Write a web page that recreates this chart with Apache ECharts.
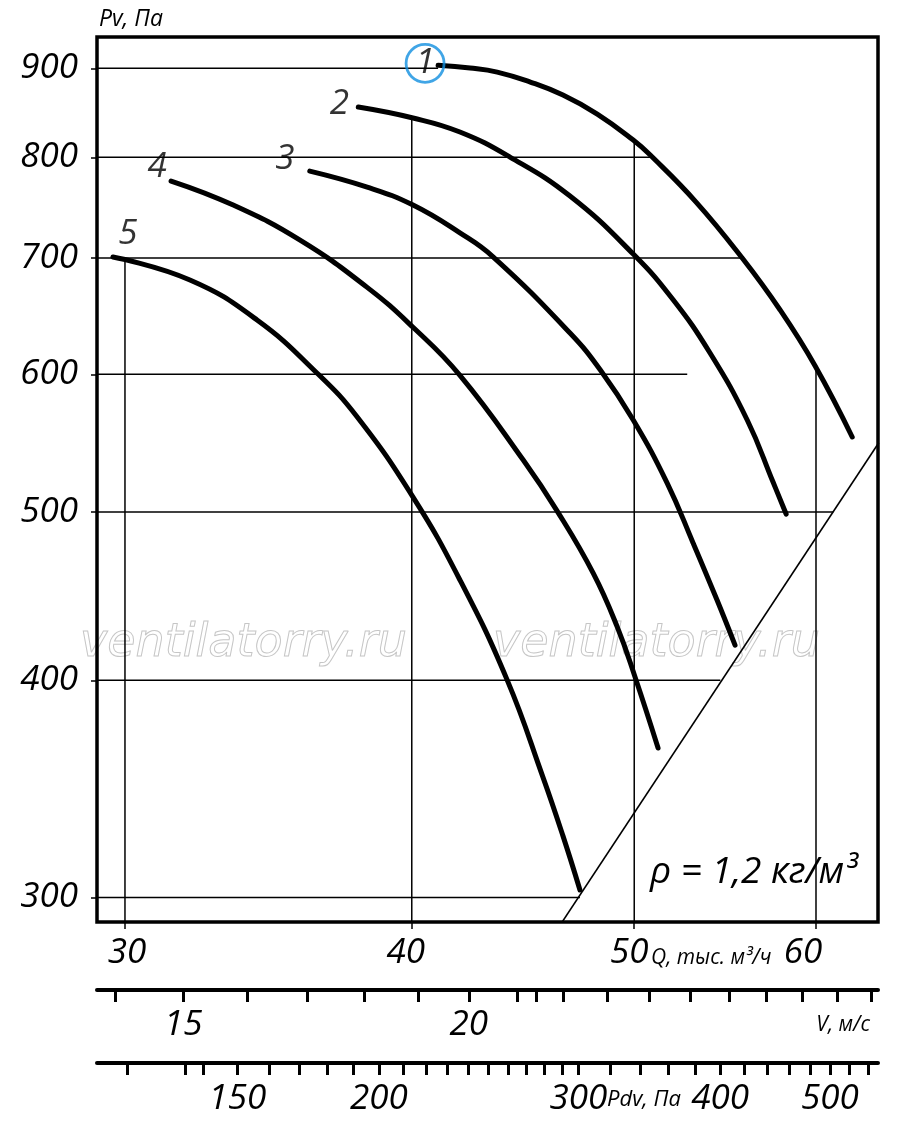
<!DOCTYPE html>
<html>
<head>
<meta charset="utf-8">
<title>Pv(Q)</title>
<script src="https://cdn.jsdelivr.net/npm/echarts@6/dist/echarts.min.js"></script>
<style>
  html, body { margin: 0; padding: 0; background: #fff; }
  #chart { width: 900px; height: 1127px; }
</style>
</head>
<body>
<div id="chart"></div>
<script>
// axis limits (edges of the frame)
var qRange = [29.17, 63.85];    // Q, тыс. м³/ч
var pRange = [290.4, 938.2];    // Pv, Па
var vRange = [13.75, 30.21];    // V, м/с
var pdvRange = [112.8, 551.3];  // Pdv, Па

var qTicks = [30, 40, 50, 60];
var pTicks = [300, 400, 500, 600, 700, 800, 900];
var vTicks = [14, 15, 16, 17, 18, 19, 20, 21, 21.4, 22, 23, 24, 25, 26, 27, 28, 29, 30];
var vLabels = [15, 20];
var pdvTicks = [120, 135, 140, 150, 160, 170, 180, 190, 200, 210, 220, 230, 240, 250,
  260, 270, 280, 290, 300, 320, 340, 360, 380, 400, 420, 440, 460, 480, 500, 520, 540];
var pdvLabels = [150, 200, 300, 400, 500];

// curves [Q, Pv]
var curveNames = ['1', '2', '3', '4', '5'];
var curve1 = [[41.07, 903.6], [42.41, 900.4], [43.58, 895.6], [45.05, 883.8], [46.55, 868.7],
  [48.18, 847.1], [49.95, 818.4], [50.81, 802.3], [53.20, 753.9], [55.72, 700.0],
  [57.88, 653.4], [59.95, 606.7], [62.22, 552.2]];
var curve2 = [[37.91, 855.0], [40.05, 842.7], [41.98, 827.2], [44.14, 800.2], [46.88, 759.9],
  [49.95, 703.7], [51.99, 662.3], [53.95, 617.2], [56.00, 564.8], [57.47, 520.2],
  [58.23, 498.6]];
var curve3 = [[36.11, 785.5], [38.25, 769.0], [40.05, 750.9], [41.98, 723.7], [43.41, 700.9],
  [46.88, 633.8], [48.33, 603.5], [49.95, 564.8], [51.68, 519.5], [53.04, 479.9],
  [54.33, 444.9], [55.32, 419.1]];
var curve4 = [[31.42, 775.2], [33.44, 750.9], [35.76, 716.8], [38.25, 673.3], [40.05, 638.6],
  [41.98, 599.2], [44.74, 535.4], [46.29, 500.4], [47.99, 460.9], [49.16, 429.2],
  [50.04, 401.8], [51.21, 365.7]];
var curve5 = [[29.64, 700.9], [32.02, 679.9], [34.25, 644.8], [36.37, 601.1], [37.87, 567.0],
  [40.05, 509.9], [41.98, 456.9], [44.01, 400.4], [45.62, 352.0], [46.55, 325.5],
  [47.35, 303.0]];
var curves = [curve1, curve2, curve3, curve4, curve5];

// dynamic pressure line Pv = Pdv
var dynLine = [[46.4, 289], [63.9, 548]];

// partial grid lines
var gridP = [300, 400, 500, 600, 700, 800, 900];
var gridPEndQ = [47.35, 54.51, 61.05, 52.73, 55.72, 50.8, 41.07];
var gridQ = [30, 40, 50, 60];
var gridQTopP = [701, 842.7, 815.2, 605.1];

// ---------------------------------------------------------------
var FONT = 'Open Sans';
var labelOffsets = [[-13, -2], [-19, -3], [-25, -12], [-14, -14], [15, -23]];
var xLabelShift = [2, -6, -5, -13];

function lg(v) { return Math.log10(v); }
function toLog(pts) { return pts.map(function (p) { return [lg(p[0]), lg(p[1])]; }); }
function fmt(v) { return String(Math.round(Math.pow(10, v))); }

function segment(pts, width) {
  return {
    type: 'line', xAxisIndex: 0, yAxisIndex: 0,
    data: toLog(pts), symbol: 'none', silent: true, z: 2,
    lineStyle: { color: '#000', width: width }
  };
}

// one smooth polyline per curve, points placed through the axes
function curveSeries(c) {
  var pts = toLog(c);
  return {
    type: 'custom', xAxisIndex: 0, yAxisIndex: 0, silent: true, z: 5,
    data: pts,
    encode: { x: 0, y: 1 },
    renderItem: function (params, api) {
      if (params.dataIndex !== 0) return;
      return {
        type: 'polyline',
        shape: { points: pts.map(function (p) { return api.coord(p); }), smooth: 0.45 },
        style: { fill: 'none', stroke: '#000', lineWidth: 5, lineCap: 'round', lineJoin: 'round' }
      };
    }
  };
}

var series = [];
gridP.forEach(function (p, i) {
  series.push(segment([[qRange[0], p], [gridPEndQ[i], p]], 1.5));
});
gridQ.forEach(function (q, i) {
  series.push(segment([[q, pRange[0]], [q, gridQTopP[i]]], 1.5));
});
series.push(segment(dynLine, 1.6));
curves.forEach(function (c) { series.push(curveSeries(c)); });

// curve numbers at the start of every curve
series.push({
  type: 'scatter', xAxisIndex: 0, yAxisIndex: 0, symbolSize: 0, silent: true, z: 6,
  data: curves.map(function (c, i) {
    var item = {
      value: [lg(c[0][0]), lg(c[0][1])],
      label: { offset: labelOffsets[i], formatter: curveNames[i] }
    };
    if (i === 0) {
      item.label.width = 38;
      item.label.height = 38;
      item.label.lineHeight = 38;
      item.label.borderColor = '#108ee0';
      item.label.borderWidth = 2.8;
      item.label.borderRadius = 21;
    }
    return item;
  }),
  label: {
    show: true, position: 'inside', align: 'center', verticalAlign: 'middle',
    color: '#000', fontFamily: FONT, fontStyle: 'italic', fontSize: 35
  }
});

var bigLabel = { color: '#000', fontFamily: FONT, fontStyle: 'italic', fontSize: 35 };

var rich = {};
xLabelShift.forEach(function (s, i) {
  rich['s' + i] = {
    color: '#000', fontFamily: FONT, fontStyle: 'italic', fontSize: 35,
    padding: s < 0 ? [0, -2 * s, 0, 0] : [0, 0, 0, 2 * s]
  };
});

function smallText(text, x, y, size, align) {
  return {
    type: 'text', x: x, y: y, silent: true,
    style: {
      text: text, fill: '#000', font: 'italic ' + size + 'px "' + FONT + '"',
      textAlign: align || 'left', textVerticalAlign: 'middle'
    }
  };
}
function watermark(x) {
  return {
    type: 'text', x: x, y: 644, silent: true, z: -1,
    style: {
      text: 'ventilatorry.ru', fill: 'rgba(255,255,255,0)', stroke: '#c6c6c6', lineWidth: 1,
      font: 'italic 46px "DejaVu Sans"', textAlign: 'left', textVerticalAlign: 'middle'
    }
  };
}

var chart = echarts.init(document.getElementById('chart'), null, { renderer: 'canvas' });
chart.setOption({
  animation: false,
  backgroundColor: '#fff',
  textStyle: { fontFamily: FONT },
  grid: [
    { left: 97, right: 22, top: 37, bottom: 205, show: true, borderColor: '#000', borderWidth: 3.5,
      backgroundColor: 'transparent', outerBoundsMode: 'none', containLabel: false },
    { left: 97, right: 22, top: 989, height: 1, outerBoundsMode: 'none', containLabel: false },
    { left: 97, right: 22, top: 1062, height: 1, outerBoundsMode: 'none', containLabel: false }
  ],
  xAxis: [
    {
      gridIndex: 0, type: 'value', min: lg(qRange[0]), max: lg(qRange[1]),
      axisLine: { show: false },
      splitLine: { show: false },
      axisTick: { show: true, customValues: qTicks.map(lg), length: 7, lineStyle: { color: '#000', width: 1.5 } },
      axisLabel: {
        customValues: qTicks.map(lg), margin: 14,
        formatter: function (v) {
          var i = qTicks.indexOf(Math.round(Math.pow(10, v)));
          return '{s' + i + '|' + fmt(v) + '}';
        },
        rich: rich
      }
    },
    {
      gridIndex: 1, type: 'value', min: lg(vRange[0]), max: lg(vRange[1]),
      axisLine: { show: true, onZero: false, lineStyle: { color: '#000', width: 4 } },
      splitLine: { show: false },
      axisTick: { show: true, customValues: vTicks.map(lg), length: 12, lineStyle: { color: '#000', width: 3 } },
      axisLabel: Object.assign({ customValues: vLabels.map(lg), margin: 18, formatter: fmt }, bigLabel)
    },
    {
      gridIndex: 2, type: 'value', min: lg(pdvRange[0]), max: lg(pdvRange[1]),
      axisLine: { show: true, onZero: false, lineStyle: { color: '#000', width: 4 } },
      splitLine: { show: false },
      axisTick: { show: true, customValues: pdvTicks.map(lg), length: 12, lineStyle: { color: '#000', width: 3 } },
      axisLabel: Object.assign({ customValues: pdvLabels.map(lg), margin: 19, formatter: fmt }, bigLabel)
    }
  ],
  yAxis: [
    {
      gridIndex: 0, type: 'value', min: lg(pRange[0]), max: lg(pRange[1]),
      axisLine: { show: false },
      splitLine: { show: false },
      axisTick: { show: true, customValues: pTicks.map(lg), length: 6, lineStyle: { color: '#000', width: 1.5 } },
      axisLabel: Object.assign({ customValues: pTicks.map(lg), margin: 19, formatter: fmt, padding: [15, 0, 0, 0] }, bigLabel)
    },
    { gridIndex: 1, type: 'value', min: 0, max: 1, show: false },
    { gridIndex: 2, type: 'value', min: 0, max: 1, show: false }
  ],
  graphic: [
    watermark(80),
    watermark(493),
    smallText('Pv, Па', 99, 19, 23),
    smallText('Q, тыс. м³/ч', 651, 958, 21),
    smallText('V, м/с', 870, 1025, 21, 'right'),
    smallText('Pdv, Па', 607, 1100, 22),
    smallText('ρ = 1,2 кг/м³', 650, 872, 37)
  ],
  series: series
});
window.addEventListener('resize', function () { chart.resize(); });
</script>
</body>
</html>
